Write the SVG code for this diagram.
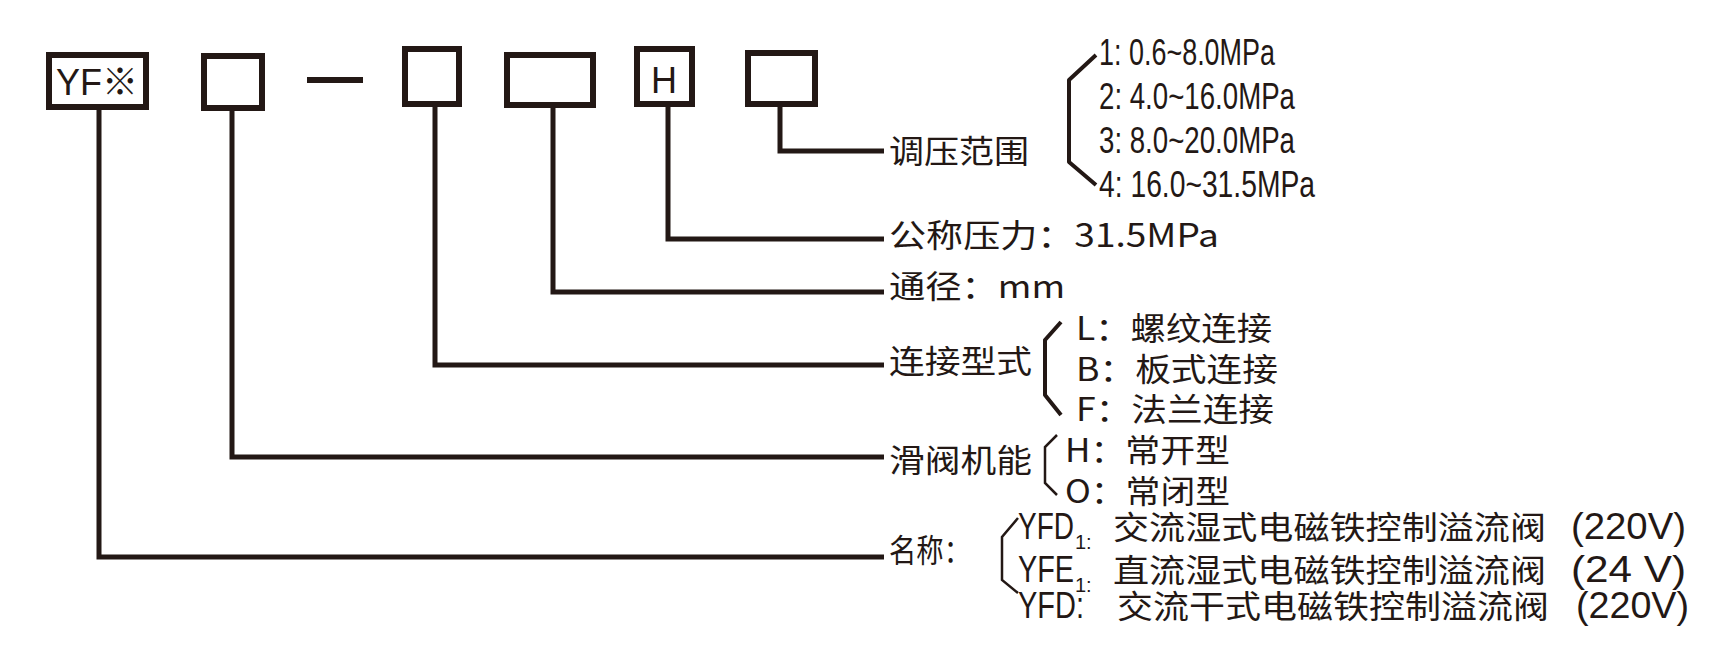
<svg xmlns="http://www.w3.org/2000/svg" width="1727" height="648" viewBox="0 0 1727 648">
<style>
.b{fill:#fff;stroke:#231815;stroke-width:6}
.c{fill:none;stroke:#231815;stroke-width:5}
.k{fill:none;stroke:#231815;stroke-width:4;stroke-linejoin:round}
.k2{fill:none;stroke:#231815;stroke-width:2.5}
text{font-family:"Liberation Sans","Noto Sans CJK SC",sans-serif;fill:#231815;font-size:36px}
.cn{font-family:"Noto Sans CJK SC",sans-serif;font-size:32px}
.s{font-size:20px}
</style>
<rect width="1727" height="648" fill="#fff"/>
<g id="connectors">
<path class="c" d="M99 107V557H884"/>
<path class="c" d="M232 108V457H884"/>
<path class="c" d="M435 104V365H884"/>
<path class="c" d="M553 100V292H884"/>
<path class="c" d="M668 104V239H884"/>
<path class="c" d="M780 104V151H884"/>
<rect x="307" y="77" width="56" height="6" fill="#231815"/>
<path class="k" d="M1096 55L1069 80V162L1096 185"/>
<path class="k" d="M1061 322L1045 340V395L1061 415"/>
<path class="k2" d="M1057 435L1045 447V483L1057 495"/>
<path class="k2" d="M1018 518L1002 537V580L1018 593"/>
</g>
<g id="n1"><rect class="b" x="49" y="55" width="97" height="52"/><text x="56" y="95" textLength="82" lengthAdjust="spacingAndGlyphs">YF※</text></g>
<g id="n2"><rect class="b" x="204" y="56" width="58" height="52"/></g>
<g id="n3"><rect class="b" x="405" y="49" width="54" height="55"/></g>
<g id="n4"><rect class="b" x="507" y="55" width="86" height="50"/></g>
<g id="n5"><rect class="b" x="637" y="49" width="55" height="55"/><text x="651" y="93" textLength="26" lengthAdjust="spacingAndGlyphs">H</text></g>
<g id="n6"><rect class="b" x="748" y="53" width="67" height="51"/></g>
<g id="l1"><text class="cn" x="889" y="163" textLength="140" lengthAdjust="spacingAndGlyphs">调压范围</text>
<text x="1099" y="65" textLength="176" lengthAdjust="spacingAndGlyphs">1: 0.6~8.0MPa</text>
<text x="1099" y="109" textLength="196" lengthAdjust="spacingAndGlyphs">2: 4.0~16.0MPa</text>
<text x="1099" y="153" textLength="196" lengthAdjust="spacingAndGlyphs">3: 8.0~20.0MPa</text>
<text x="1099" y="197" textLength="216" lengthAdjust="spacingAndGlyphs">4: 16.0~31.5MPa</text></g>
<g id="l2"><text class="cn" x="889" y="247" textLength="330" lengthAdjust="spacingAndGlyphs">公称压力：31.5MPa</text></g>
<g id="l3"><text class="cn" x="889" y="298" textLength="176" lengthAdjust="spacingAndGlyphs">通径：mm</text></g>
<g id="l4"><text class="cn" x="889" y="373" textLength="143" lengthAdjust="spacingAndGlyphs">连接型式</text>
<text class="cn" x="1076" y="340" textLength="196" lengthAdjust="spacingAndGlyphs">L：螺纹连接</text>
<text class="cn" x="1076" y="381" textLength="202" lengthAdjust="spacingAndGlyphs">B：板式连接</text>
<text class="cn" x="1076" y="421" textLength="198" lengthAdjust="spacingAndGlyphs">F：法兰连接</text></g>
<g id="l5"><text class="cn" x="889" y="472" textLength="143" lengthAdjust="spacingAndGlyphs">滑阀机能</text>
<text class="cn" x="1065" y="462" textLength="165" lengthAdjust="spacingAndGlyphs">H：常开型</text>
<text class="cn" x="1065" y="503" textLength="165" lengthAdjust="spacingAndGlyphs">O：常闭型</text></g>
<g id="l6"><text class="cn" x="889" y="562" textLength="82" lengthAdjust="spacingAndGlyphs">名称：</text>
<text x="1018" y="539" textLength="56" lengthAdjust="spacingAndGlyphs">YFD</text><text class="s" x="1075" y="549">1:</text>
<text class="cn" x="1113" y="539" textLength="433" lengthAdjust="spacingAndGlyphs">交流湿式电磁铁控制溢流阀</text>
<text x="1571" y="539" textLength="115" lengthAdjust="spacingAndGlyphs">(220V)</text>
<text x="1018" y="582" textLength="56" lengthAdjust="spacingAndGlyphs">YFE</text><text class="s" x="1075" y="592">1:</text>
<text class="cn" x="1113" y="582" textLength="433" lengthAdjust="spacingAndGlyphs">直流湿式电磁铁控制溢流阀</text>
<text x="1571" y="582" textLength="115" lengthAdjust="spacingAndGlyphs">(24  V)</text>
<text x="1018" y="618" textLength="66" lengthAdjust="spacingAndGlyphs">YFD:</text>
<text class="cn" x="1117" y="618" textLength="432" lengthAdjust="spacingAndGlyphs">交流干式电磁铁控制溢流阀</text>
<text x="1576" y="618" textLength="113" lengthAdjust="spacingAndGlyphs">(220V)</text></g>
</svg>
